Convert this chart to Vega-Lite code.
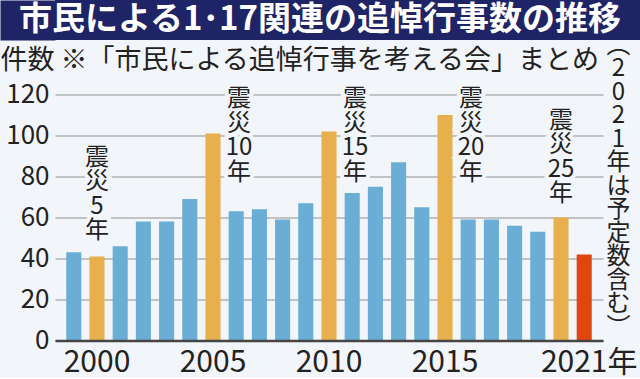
{
  "$schema": "https://vega.github.io/schema/vega-lite/v6.json",
  "background": "#f2f6fa",
  "padding": 0,
  "spacing": -7.5,
  "config": {"view": {"stroke": null}, "font": "Noto Sans CJK JP"},
  "datasets": {
    "counts": [
      {"year": 1999, "count": 43, "type": "通常"},
      {"year": 2000, "count": 41, "type": "震災"},
      {"year": 2001, "count": 46, "type": "通常"},
      {"year": 2002, "count": 58, "type": "通常"},
      {"year": 2003, "count": 58, "type": "通常"},
      {"year": 2004, "count": 69, "type": "通常"},
      {"year": 2005, "count": 101, "type": "震災"},
      {"year": 2006, "count": 63, "type": "通常"},
      {"year": 2007, "count": 64, "type": "通常"},
      {"year": 2008, "count": 59, "type": "通常"},
      {"year": 2009, "count": 67, "type": "通常"},
      {"year": 2010, "count": 102, "type": "震災"},
      {"year": 2011, "count": 72, "type": "通常"},
      {"year": 2012, "count": 75, "type": "通常"},
      {"year": 2013, "count": 87, "type": "通常"},
      {"year": 2014, "count": 65, "type": "通常"},
      {"year": 2015, "count": 110, "type": "震災"},
      {"year": 2016, "count": 59, "type": "通常"},
      {"year": 2017, "count": 59, "type": "通常"},
      {"year": 2018, "count": 56, "type": "通常"},
      {"year": 2019, "count": 53, "type": "通常"},
      {"year": 2020, "count": 60, "type": "震災"},
      {"year": 2021, "count": 42, "type": "2021"}
    ],
    "annotCenter": [
      {"year": 2000, "top": 95, "label": "震\n災\n5\n年"},
      {"year": 2020, "top": 113, "label": "震\n災\n25\n年"}
    ],
    "annotSide": [
      {"year": 2005, "top": 123.5, "label": "震\n災\n10\n年"},
      {"year": 2010, "top": 123.5, "label": "震\n災\n15\n年"},
      {"year": 2015, "top": 123.5, "label": "震\n災\n20\n年"}
    ]
  },
  "vconcat": [
    {
      "width": 585,
      "height": 40,
      "view": {"fill": "#1f2466", "stroke": null},
      "data": {"values": [{"title": "市民による1･17関連の追悼行事数の推移", "v": 0}]},
      "mark": {"type": "text", "color": "#ffffff", "fontSize": 33, "fontWeight": "bold", "font": "Noto Sans CJK JP", "align": "center", "baseline": "middle", "dx": -27.5},
      "encoding": {
        "text": {"field": "title", "type": "nominal"},
        "y": {
          "field": "v", "type": "quantitative",
          "scale": {"domain": [-1, 1], "nice": false},
          "axis": {"orient": "left", "labels": false, "ticks": false, "grid": false, "title": null,
                   "domain": true, "domainColor": "#1f2466", "domainWidth": 55, "offset": 27.5, "minExtent": 0}
        }
      }
    },
    {
      "width": 548,
      "height": 246,
      "layer": [
        {
          "data": {"name": "counts"},
          "mark": {"type": "bar"},
          "encoding": {
            "x": {
              "field": "year", "type": "ordinal",
              "scale": {"paddingInner": 0.35, "paddingOuter": 0.485},
              "axis": {
                "values": [2000, 2005, 2010, 2015, 2021],
                "labelExpr": "datum.value == 2021 ? '2021年' : datum.label",
                "labelOffset": {"condition": {"test": "datum.value == 2021", "value": 5}, "value": 0},
                "labelAngle": 0, "ticks": false, "grid": false,
                "domain": true, "domainColor": "#454545", "domainWidth": 2.5,
                "labelFont": "Liberation Sans Narrow, Noto Sans CJK JP",
                "labelFontSize": 30, "labelColor": "#222222", "labelPadding": 7,
                "title": null, "zindex": 1
              }
            },
            "y": {
              "field": "count", "type": "quantitative",
              "scale": {"domain": [0, 120], "nice": false},
              "axis": {
                "orient": "left",
                "values": [0, 20, 40, 60, 80, 100, 120],
                "ticks": false, "domain": false,
                "grid": true, "gridColor": "#8f8f8f", "gridWidth": 1,
                "labelFont": "Liberation Sans Narrow, Noto Sans CJK JP",
                "labelFontSize": 26, "labelColor": "#222222", "labelPadding": 6,
                "title": "\u00a0件数 ※「市民による追悼行事を考える会」まとめ",
                "titleAngle": 0, "titleAlign": "left", "titleBaseline": "middle",
                "titleX": -55, "titleY": -34,
                "titleFont": "Noto Sans CJK JP", "titleFontSize": 27, "titleFontWeight": "normal", "titleColor": "#222222"
              }
            },
            "color": {
              "field": "type", "type": "nominal",
              "scale": {"domain": ["通常", "震災", "2021"], "range": ["#6aaed6", "#e8b04c", "#e0470e"]},
              "legend": null
            }
          }
        },
        {
          "data": {"name": "annotCenter"},
          "mark": {"type": "text", "align": "center", "baseline": "top", "fontSize": 24, "lineHeight": 24.5, "lineBreak": "\n", "font": "Liberation Sans Narrow, Noto Sans CJK JP", "fill": "#f2f6fa", "stroke": "#f2f6fa", "strokeWidth": 8},
          "encoding": {
            "x": {"field": "year", "type": "ordinal"},
            "y": {"field": "top", "type": "quantitative", "scale": {"domain": [0, 120], "nice": false}, "axis": null},
            "text": {"field": "label"}
          }
        },
        {
          "data": {"name": "annotSide"},
          "mark": {"type": "text", "align": "center", "baseline": "top", "dx": 26, "fontSize": 24, "lineHeight": 24.5, "lineBreak": "\n", "font": "Liberation Sans Narrow, Noto Sans CJK JP", "fill": "#f2f6fa", "stroke": "#f2f6fa", "strokeWidth": 8},
          "encoding": {
            "x": {"field": "year", "type": "ordinal"},
            "y": {"field": "top", "type": "quantitative", "scale": {"domain": [0, 120], "nice": false}, "axis": null},
            "text": {"field": "label"}
          }
        },
        {
          "data": {"name": "annotCenter"},
          "mark": {"type": "text", "align": "center", "baseline": "top", "fontSize": 24, "lineHeight": 24.5, "lineBreak": "\n", "font": "Liberation Sans Narrow, Noto Sans CJK JP", "color": "#222222"},
          "encoding": {
            "x": {"field": "year", "type": "ordinal"},
            "y": {
              "field": "top", "type": "quantitative",
              "scale": {"domain": [0, 120], "nice": false},
              "axis": {
                "orient": "right", "labels": false, "ticks": false, "domain": false, "grid": false,
                "title": ["︵", "2", "0", "2", "1", "年", "は", "予", "定", "数", "含", "む", "︶"],
                "titleAngle": 0, "titleAlign": "center", "titleBaseline": "middle",
                "titleX": 15, "titleY": -49.5, "titleLineHeight": 23.5,
                "titleFont": "Liberation Sans Narrow, Noto Sans CJK JP",
                "titleFontSize": 24, "titleFontWeight": "normal", "titleColor": "#222222"
              }
            },
            "text": {"field": "label"}
          }
        },
        {
          "data": {"name": "annotSide"},
          "mark": {"type": "text", "align": "center", "baseline": "top", "dx": 26, "fontSize": 24, "lineHeight": 24.5, "lineBreak": "\n", "font": "Liberation Sans Narrow, Noto Sans CJK JP", "color": "#222222"},
          "encoding": {
            "x": {"field": "year", "type": "ordinal"},
            "y": {"field": "top", "type": "quantitative", "scale": {"domain": [0, 120], "nice": false}, "axis": null},
            "text": {"field": "label"}
          }
        }
      ],
      "resolve": {"axis": {"y": "independent"}}
    }
  ]
}
